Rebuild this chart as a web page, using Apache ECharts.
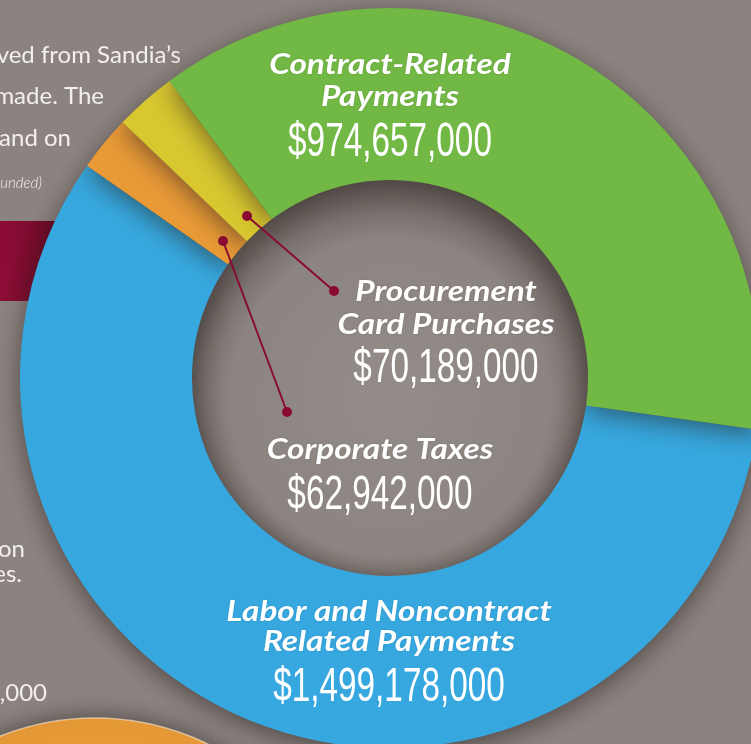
<!DOCTYPE html>
<html>
<head>
<meta charset="utf-8">
<script src="https://cdn.jsdelivr.net/npm/echarts@6/dist/echarts.min.js"></script>
<style>
html,body{margin:0;padding:0;background:#8b837f;}
#chart{width:751px;height:744px;}
</style>
</head>
<body>
<div id="chart"></div>
<script>
// ---- data ----
const categories = ['Labor and Noncontract Related Payments', 'Corporate Taxes', 'Procurement Card Purchases', 'Contract-Related Payments'];
const labelLines = [['Labor and Noncontract', 'Related Payments'], ['Corporate Taxes'], ['Procurement', 'Card Purchases'], ['Contract-Related', 'Payments']];
const values = [1499178000, 62942000, 70189000, 974657000];

// ---- styles / layout ----
const colors = ['#36a8df', '#e99a36', '#d8c72f', '#72b845'];
const center = [390, 378];
const radii = [198, 370];
const startAngle = -8;
// label layout: centre x, baselines of text lines, baseline of amount
const labelLayout = [
  { x: 389, lines: [620, 650], amount: 702 },
  { x: 380, lines: [458], amount: 510 },
  { x: 446, lines: [300, 333], amount: 383 },
  { x: 390, lines: [73, 105], amount: 157 }
];
// leader line ends near labels (for small slices)
const leaderEnds = { 1: [287, 412], 2: [334, 291] };
const crimson = '#8a0b32';

const chart = echarts.init(document.getElementById('chart'), null, { renderer: 'canvas' });

const total = values.reduce((a, b) => a + b, 0);
function midAngle(i) {
  let cum = 0;
  for (let k = 0; k < i; k++) cum += values[k];
  const a0 = startAngle - cum / total * 360;
  return a0 - values[i] / total * 360 / 2;
}
function amountText(v) { return '$' + echarts.format.addCommas(v); }

const graphics = [];
// crimson bar behind the ring (page decoration)
graphics.push({
  type: 'rect', z: 0, shape: { x: 0, y: 221, width: 80, height: 80 },
  style: { fill: new echarts.graphic.LinearGradient(0, 0, 1, 0, [{ offset: 0, color: '#8e0c36' }, { offset: 1, color: '#5e0621' }]) }
});
// orange circle bottom-left (page decoration)
graphics.push({
  type: 'circle', z: 0, shape: { cx: 95, cy: 975, r: 257 },
  style: { fill: '#e89a37', stroke: 'rgba(255,235,210,0.6)', lineWidth: 1.5, shadowBlur: 22, shadowColor: 'rgba(30,20,18,0.5)', shadowOffsetY: -2 }
});
// hole shading
graphics.push({
  type: 'circle', z: 0, shape: { cx: center[0], cy: center[1], r: radii[0] + 2 },
  style: { fill: new echarts.graphic.RadialGradient(0.5, 0.55, 0.5, [{ offset: 0, color: '#948c88' }, { offset: 0.8, color: '#8c8480' }, { offset: 1, color: '#6c6460' }]) }
});

// page text fragments on left
const pageFont = '"Lato", "Open Sans", sans-serif';
const pageTexts = [
  { t: 'received from Sandia\u2019s', x: 181, b: 62 },
  { t: 'made. The', x: 104, b: 103 },
  { t: 'and on', x: 71, b: 145 },
  { t: 'on', x: 25, b: 556 },
  { t: 'es.', x: 22, b: 581 },
  { t: '0,000', x: 47, b: 700 }
];
pageTexts.forEach(p => {
  graphics.push({
    type: 'text', z: 1, x: p.x, y: p.b - 7.2,
    style: { text: p.t, font: '400 24px ' + pageFont, fill: '#f3efed', align: 'right', verticalAlign: 'middle' }
  });
});
graphics.push({
  type: 'text', z: 1, x: 42, y: 188 - 4.5,
  style: { text: '(rounded)', font: 'italic 300 15px ' + pageFont, fill: '#f3efed', align: 'right', verticalAlign: 'middle' }
});

// leader lines
[1, 2].forEach(i => {
  const a = midAngle(i) * Math.PI / 180;
  const r = 216;
  const p0 = [center[0] + r * Math.cos(a), center[1] - r * Math.sin(a)];
  const p1 = leaderEnds[i];
  graphics.push({ type: 'line', z: 100, shape: { x1: p0[0], y1: p0[1], x2: p1[0], y2: p1[1] }, style: { stroke: crimson, lineWidth: 2 } });
  graphics.push({ type: 'circle', z: 101, shape: { cx: p0[0], cy: p0[1], r: 5 }, style: { fill: crimson } });
  graphics.push({ type: 'circle', z: 101, shape: { cx: p1[0], cy: p1[1], r: 5 }, style: { fill: crimson } });
});

// labels
const labFont = 'italic 700 29px "Lato", "Open Sans", sans-serif';
const numFont = '400 49px "Liberation Sans Narrow", "Liberation Sans", sans-serif';
labelLines.forEach((lines, i) => {
  const L = labelLayout[i];
  lines.forEach((t, j) => {
    graphics.push({
      type: 'text', z: 110, x: L.x, y: L.lines[j] - 8.7, scaleX: 1.15,
      style: { text: t, font: labFont, fill: '#ffffff', align: 'center', verticalAlign: 'middle',
               textShadowBlur: 2, textShadowColor: 'rgba(0,0,0,0.15)' }
    });
  });
  graphics.push({
    type: 'text', z: 110, x: L.x, y: L.amount - 14.7, scaleX: 0.68,
    style: { text: amountText(values[i]), font: numFont, fill: '#ffffff', align: 'center', verticalAlign: 'middle' }
  });
});

chart.setOption({
  backgroundColor: '#8b837f',
  animation: false,
  series: [{
    type: 'pie',
    center: center,
    radius: radii,
    startAngle: startAngle,
    clockwise: true,
    silent: true,
    label: { show: false },
    labelLine: { show: false },
    emphasis: { disabled: true },
    itemStyle: { borderWidth: 0, shadowBlur: 26, shadowColor: 'rgba(35,25,22,0.55)', shadowOffsetY: 6 },
    data: categories.map((c, i) => ({ name: c, value: values[i], itemStyle: { color: colors[i] } }))
  }],
  graphic: graphics
});
</script>
</body>
</html>
